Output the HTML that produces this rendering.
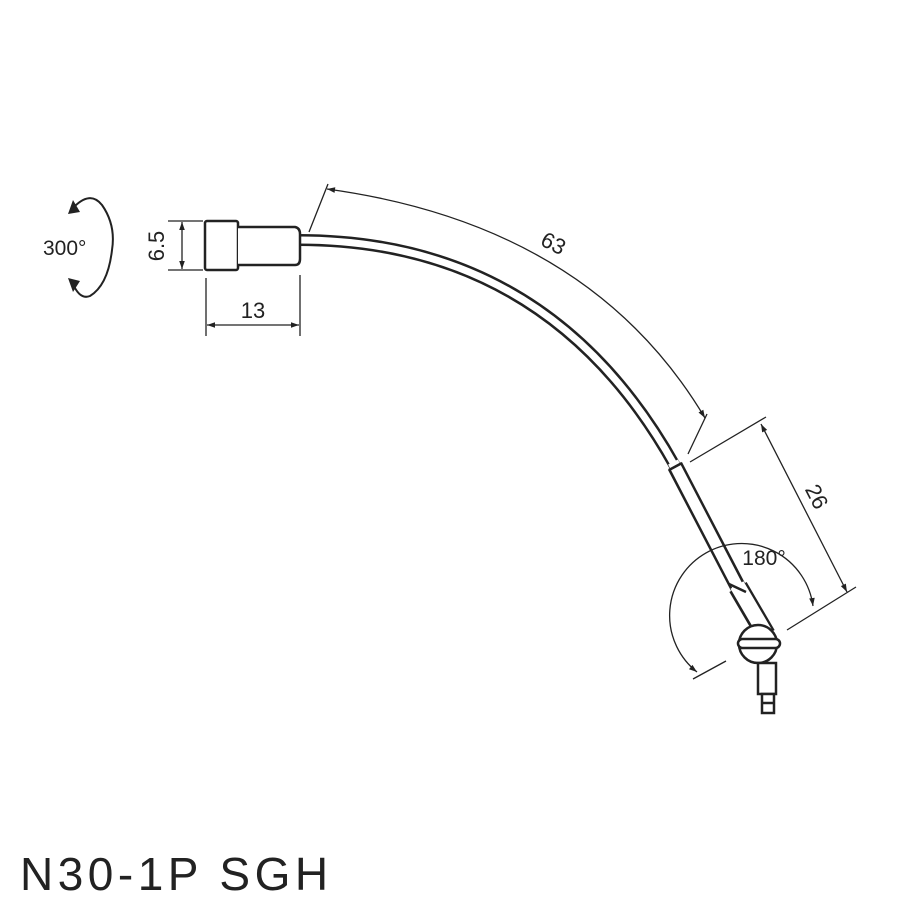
<!DOCTYPE html>
<html><head><style>
html,body{margin:0;padding:0;background:#fff;}
svg{display:block;}
text{font-family:"Liberation Sans",Arial,sans-serif;fill:#222;}
</style></head><body>
<svg width="900" height="900" viewBox="0 0 900 900" xmlns="http://www.w3.org/2000/svg">
<defs>
<marker id="a" viewBox="0 0 10 10" refX="10" refY="5" markerWidth="10" markerHeight="8" orient="auto-start-reverse" markerUnits="userSpaceOnUse">
<path d="M0,1.5 L10,5 L0,8.5 Z" fill="#222"/>
</marker>
</defs>
<!-- tube as outlined strokes -->
<g fill="none" stroke-linecap="butt">
<path d="M298,240 Q549,240 675,466" stroke="#222" stroke-width="12"/>
<path d="M298,240 Q549,240 675,466" stroke="#fff" stroke-width="7"/>
<line x1="675" y1="466" x2="738" y2="587" stroke="#222" stroke-width="16"/>
<line x1="673" y1="462" x2="740" y2="591" stroke="#fff" stroke-width="11"/>
<line x1="738" y1="587" x2="766" y2="635" stroke="#222" stroke-width="20"/>
<line x1="737" y1="585" x2="768" y2="638" stroke="#fff" stroke-width="15"/>
</g>
<g fill="none" stroke="#222" stroke-width="2.5">
<line x1="669" y1="470" x2="682" y2="463"/>
<line x1="729" y1="584" x2="746" y2="592"/>
<!-- nozzle -->
<rect x="205" y="221" width="33" height="49" rx="2" fill="#fff"/>
<path d="M238,227 H295 Q300,228 300,234 V259 Q300,265 295,265 H238" fill="#fff"/>
<!-- ball -->
<circle cx="758" cy="644" r="19" fill="#fff"/>
<rect x="738" y="639" width="42" height="9" rx="4.5" fill="#fff"/>
<rect x="758" y="663" width="18" height="31" fill="#fff"/>
<rect x="762" y="694" width="12" height="19" fill="#fff"/>
<line x1="762" y1="703" x2="774" y2="703"/>
</g>
<g fill="none" stroke="#222" stroke-width="1.3">
<path d="M73,208 Q90,190 102,205 Q116,225 112,250 Q108,285 90,296 Q80,300 73,284" stroke-width="2"/>
<path d="M68,214 L73,200 L80,212 Z" fill="#222" stroke="none"/>
<path d="M68,278 L73,292 L80,281 Z" fill="#222" stroke="none"/>
<line x1="168" y1="221" x2="203" y2="221"/>
<line x1="168" y1="270" x2="203" y2="270"/>
<line x1="182" y1="222" x2="182" y2="269" marker-start="url(#a)" marker-end="url(#a)"/>
<line x1="206" y1="278" x2="206" y2="336"/>
<line x1="300" y1="275" x2="300" y2="336"/>
<line x1="207" y1="325" x2="299" y2="325" marker-start="url(#a)" marker-end="url(#a)"/>
<line x1="309" y1="232" x2="328" y2="184"/>
<line x1="707" y1="414" x2="688" y2="454"/>
<path d="M327,189 Q590,225 705,418" marker-start="url(#a)" marker-end="url(#a)"/>
<line x1="690" y1="462" x2="766" y2="417"/>
<line x1="787" y1="630" x2="856" y2="587"/>
<line x1="761" y1="424" x2="847" y2="592" marker-start="url(#a)" marker-end="url(#a)"/>
<path d="M813,606 A72,72 0 1 0 697,672" marker-start="url(#a)" marker-end="url(#a)"/>
<line x1="693" y1="679" x2="726" y2="661"/>
</g>
<text x="43" y="255" font-size="21">300°</text>
<text x="0" y="0" font-size="22" transform="translate(164,246) rotate(-90)" text-anchor="middle">6.5</text>
<text x="253" y="318" font-size="22" text-anchor="middle">13</text>
<text x="0" y="0" font-size="22" transform="translate(550,250) rotate(27)" text-anchor="middle">63</text>
<text x="0" y="0" font-size="22" transform="translate(810,500) rotate(63)" text-anchor="middle">26</text>
<text x="764" y="565" font-size="21" text-anchor="middle">180°</text>
<text x="20" y="890" font-size="46" letter-spacing="4.5">N30-1P SGH</text>
</svg>
</body></html>
